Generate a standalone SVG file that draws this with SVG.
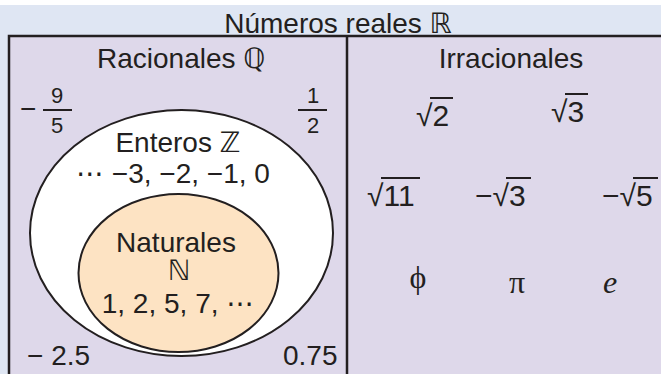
<svg xmlns="http://www.w3.org/2000/svg" width="661" height="374" viewBox="0 0 661 374">
<style>
.t{font-family:"Liberation Sans","DejaVu Sans",sans-serif;font-size:28px;fill:#231f20}
.f{font-family:"Liberation Sans","DejaVu Sans",sans-serif;font-size:22px;fill:#231f20;text-anchor:middle}
.r{font-family:"Liberation Sans","DejaVu Sans",sans-serif;font-size:30px;fill:#231f20}
.s{font-family:"Liberation Serif","DejaVu Serif",serif;font-size:32px;fill:#231f20}
.m{text-anchor:middle}
.ln{stroke:#231f20;stroke-width:2;fill:none}
</style>
<rect x="0" y="0" width="661" height="374" fill="#ffffff"/>
<rect x="0" y="5" width="661" height="369" fill="#dfe6f3"/>
<g id="title"><text class="t m" x="338" y="33">Números reales ℝ</text></g>
<g id="reales">
<rect x="9" y="36" width="670" height="360" fill="#ded8ea" stroke="#231f20" stroke-width="2.5"/>
<line x1="347" y1="36" x2="347" y2="374" stroke="#231f20" stroke-width="2.5"/>
</g>
<g id="racionales">
<text class="t" x="97" y="68">Racionales ℚ</text>
<text class="t" x="20" y="118">−</text>
<text class="f" x="57" y="103">9</text>
<line class="ln" x1="43" y1="110" x2="72" y2="110"/>
<text class="f" x="57" y="133">5</text>
<text class="f" x="313" y="103">1</text>
<line class="ln" x1="298" y1="110" x2="327" y2="110"/>
<text class="f" x="313" y="133">2</text>
<text class="t" x="27" y="365">− 2.5</text>
<text class="t" x="283" y="365">0.75</text>
</g>
<g id="enteros">
<ellipse cx="181.5" cy="233" rx="151.5" ry="123" fill="#ffffff" stroke="#231f20" stroke-width="2"/>
<text class="t m" x="178" y="152">Enteros ℤ</text>
<text class="t m" x="173" y="183">⋯ −3, −2, −1, 0</text>
</g>
<g id="naturales">
<ellipse cx="178.5" cy="273" rx="100" ry="79" fill="#fde3c3" stroke="#231f20" stroke-width="2"/>
<text class="t m" x="176" y="252">Naturales</text>
<text class="t m" x="179" y="280">ℕ</text>
<text class="t m" x="178" y="313">1, 2, 5, 7, ⋯</text>
</g>
<g id="irracionales">
<text class="t m" x="511" y="68">Irracionales</text>
<text class="r" x="416" y="126">√2</text>
<line class="ln" x1="430" y1="98" x2="453" y2="98"/>
<text class="r" x="551" y="122">√3</text>
<line class="ln" x1="565" y1="94" x2="588" y2="94"/>
<text class="r" x="367" y="206">√11</text>
<line class="ln" x1="381" y1="178" x2="420" y2="178"/>
<text class="r" x="475" y="206">−√3</text>
<line class="ln" x1="506" y1="178" x2="531" y2="178"/>
<text class="r" x="602" y="206">−√5</text>
<line class="ln" x1="633" y1="178" x2="658" y2="178"/>
<text class="s m" x="418" y="288">ϕ</text>
<text class="s m" x="517" y="293">π</text>
<text class="s m" x="610" y="293" font-style="italic">e</text>
</g>
</svg>
